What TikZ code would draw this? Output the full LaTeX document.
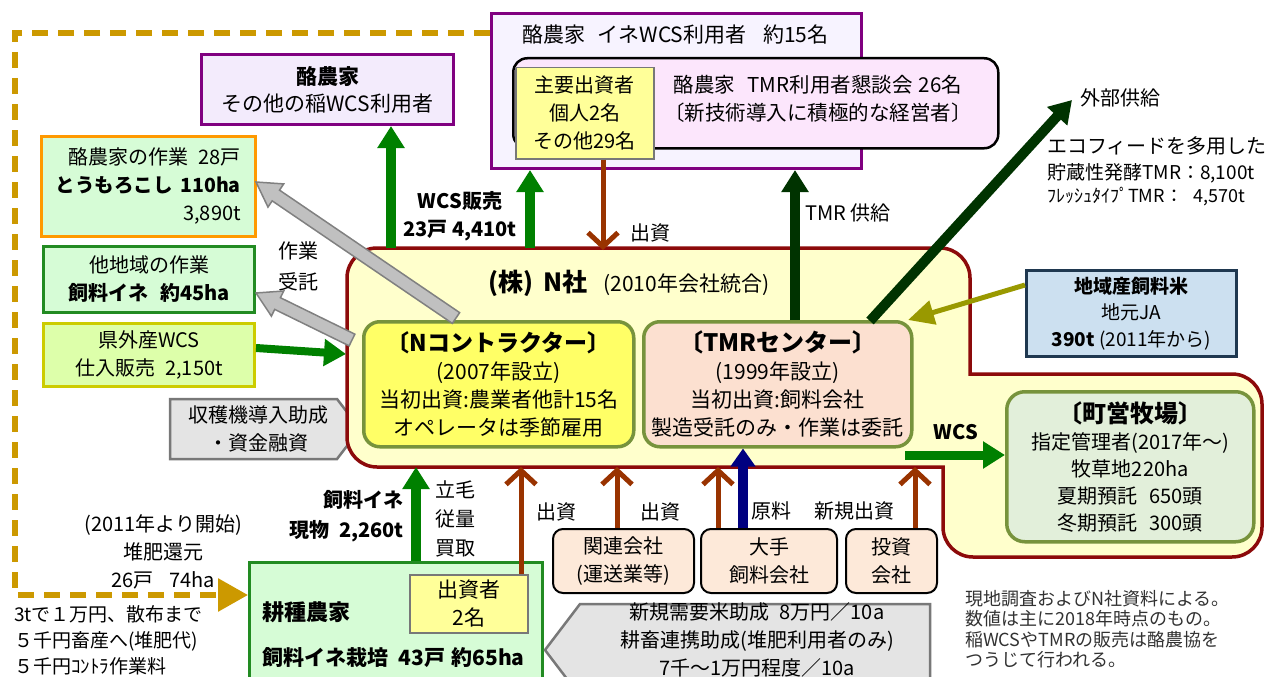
\documentclass[tikz,border=0pt]{standalone}
\usepackage{fontspec}
\setmainfont{Noto Sans CJK JP}
\usetikzlibrary{arrows.meta,calc}
\definecolor{gold}{RGB}{204,153,0}
\definecolor{purp}{RGB}{128,0,128}
\definecolor{lav}{RGB}{243,235,252}
\definecolor{lav2}{RGB}{247,243,255}
\definecolor{pinkl}{RGB}{252,230,252}
\definecolor{yel}{RGB}{255,255,153}
\definecolor{lgreen}{RGB}{214,252,214}
\definecolor{orng}{RGB}{255,153,0}
\definecolor{dgrn}{RGB}{34,139,34}
\definecolor{ygrnb}{RGB}{204,204,0}
\definecolor{ygrnf}{RGB}{221,255,170}
\definecolor{grayb}{RGB}{120,120,120}
\definecolor{grayf}{RGB}{228,228,228}
\definecolor{nred}{RGB}{140,10,10}
\definecolor{nfill}{RGB}{255,255,204}
\definecolor{olivb}{RGB}{119,147,60}
\definecolor{ncfill}{RGB}{255,255,102}
\definecolor{tmrfill}{RGB}{252,224,208}
\definecolor{farmfill}{RGB}{226,239,218}
\definecolor{arrg}{RGB}{0,128,0}
\definecolor{arrdg}{RGB}{0,51,0}
\definecolor{brn}{RGB}{153,51,0}
\definecolor{navyc}{RGB}{0,0,128}
\definecolor{oliva}{RGB}{153,153,0}
\definecolor{bluef}{RGB}{204,224,240}
\definecolor{blueb}{RGB}{31,56,80}
\definecolor{peach}{RGB}{253,233,217}
\definecolor{notec}{RGB}{50,50,50}
\definecolor{garr}{RGB}{192,192,192}
\definecolor{garrb}{RGB}{128,128,128}
\newcommand{\fsz}[2]{\fontsize{#1}{#2}\selectfont}
\newcommand{\grayarrow}[3]{%
  \coordinate (#3h) at ($(#2)!24pt!(#1)$);
  \draw[draw=garrb, fill=garr, line width=1.5pt]
   ($(#1)!6.5pt!90:(#2)$) -- ($(#3h)!6.5pt!90:(#2)$) -- ($(#3h)!14pt!90:(#2)$) -- (#2)
   -- ($(#3h)!14pt!-90:(#2)$) -- ($(#3h)!6.5pt!-90:(#2)$) -- ($(#1)!6.5pt!-90:(#2)$) -- cycle;}
\begin{document}
\begin{tikzpicture}[x=1pt,y=-1pt,
  box/.style={draw, line width=3pt, inner sep=2pt, anchor=north west, align=center, font=\fsz{20}{28}},
  txt/.style={inner sep=0pt, align=center, font=\fsz{20}{28}},
  garrow/.style={draw=arrg, line width=10pt, -{Triangle[length=22pt,width=26pt]}},
  dgarrow/.style={draw=arrdg, line width=10pt, -{Triangle[length=22pt,width=26pt]}},
  narrow/.style={draw=navyc, line width=10pt, -{Triangle[length=18pt,width=24pt]}},
  barrow/.style={draw=brn, line width=5pt, -{Straight Barb[length=14pt,width=30pt]}},
  oarrow/.style={draw=oliva, line width=5pt, -{Triangle[length=26pt,width=24pt]}},
  dashline/.style={draw=gold, line width=6pt, dash pattern=on 16pt off 10pt, -{Triangle[length=30pt,width=32pt]}},
  pent/.style={draw=grayb, fill=grayf, line width=2.5pt},
  pbox/.style={box, draw=black, line width=2pt, fill=peach, rounded corners=10pt, minimum height=64pt},
]
\fill[white] (0,0) rectangle (1272,677);
\path[use as bounding box] (0,0) rectangle (1272,677);

% top purple boxes
\node[box, draw=purp, fill=lav2, minimum width=370pt, minimum height=155pt] (pbig) at (490,12) {};
\node[txt, anchor=west, font=\fsz{21}{28}] (pbigT) at (522,35) {酪農家\hspace{0.6em}イネWCS利用者\hspace{0.8em}約15名};
\node[box, draw=black, line width=2.5pt, fill=pinkl, rounded corners=14pt, minimum width=485pt, minimum height=90pt] (tmrg) at (512,57) {};
\node[txt, font=\fsz{20.5}{28}] (tmrgT) at (818,99) {酪農家\hspace{0.6em}TMR利用者懇談会\hspace{0.3em}26名\\〔新技術導入に積極的な経営者〕};
\node[box, draw=grayb, line width=1.5pt, fill=yel, minimum width=138pt, minimum height=91pt] (inv1) at (515,67) {主要出資者\\個人2名\\その他29名};
\node[box, draw=purp, fill=lav, minimum width=252pt, minimum height=70pt, font=\fsz{21}{27}] (pleft) at (200,53) {\textbf{酪農家}\\その他の稲WCS利用者};

% dashed compost line
\coordinate (d0) at (0,33);
\draw[dashline] (pbig.west |- d0) -- (15,33) -- (15,595) -- (248,595);

% left boxes
\node[box, draw=orng, fill=lgreen, minimum width=214pt, minimum height=100pt] (corn) at (40,135) {};
\node[txt, anchor=east] (cornT1) at (241,157) {酪農家の作業\hspace{0.5em}28戸};
\node[txt, anchor=east, font=\bfseries\fsz{19.5}{28}] (cornT2) at (241,185) {とうもろこし\hspace{0.4em}110ha};
\node[txt, anchor=east] (cornT3) at (241,215) {3,890t};
\node[box, draw=dgrn, fill=lgreen, minimum width=211pt, minimum height=66pt] (other) at (42,245) {他地域の作業\\\textbf{飼料イネ\hspace{0.6em}約45ha}};
\node[box, draw=ygrnb, fill=ygrnf, minimum width=211pt, minimum height=63pt] (outwcs) at (42,322) {県外産WCS\\仕入販売\hspace{0.5em}2,150t};
\draw[pent] (170,399) -- (337,399) -- (360,429) -- (337,459) -- (170,459) -- cycle;
\node[txt] (harv) at (258,429) {収穫機導入助成\\・資金融資};

% N company outline
\draw[line width=3.5pt, draw=nred, fill=nfill] (347,360) [rounded corners=30pt] -- (347,248) -- (970,248) [sharp corners] -- (970,374) [rounded corners=30pt] -- (1262,374) -- (1262,557) -- (943,557) [sharp corners] -- (943,467) [rounded corners=30pt] -- (347,467) -- cycle;
\node[txt, anchor=west] (nshaT) at (488,283) {{\bfseries\fsz{25}{28}(株)\hspace{0.4em}N社}\hspace{0.8em}{\fsz{21}{28}(2010年会社統合)}};
\node[box, draw=olivb, line width=3.5pt, fill=ncfill, rounded corners=16pt, minimum width=270pt, minimum height=125pt, font=\fsz{21}{28}] (nc) at (362,320) {{\bfseries\fsz{23}{28}〔Nコントラクター〕}\\(2007年設立)\\当初出資:農業者他計15名\\オペレータは季節雇用};
\node[box, draw=olivb, line width=3.5pt, fill=tmrfill, rounded corners=16pt, minimum width=268pt, minimum height=125pt, font=\fsz{21}{28}] (tmr) at (642,320) {{\bfseries\fsz{24}{28}〔TMRセンター〕}\\(1999年設立)\\当初出資:飼料会社\\製造受託のみ・作業は委託};
\node[box, draw=olivb, line width=3.5pt, fill=farmfill, rounded corners=18pt, minimum width=247pt, minimum height=150pt, font=\fsz{20}{27}] (farm) at (1005,390) {{\bfseries\fsz{24}{30}〔町営牧場〕}\\指定管理者(2017年～)\\牧草地220ha\\夏期預託\hspace{0.6em}650頭\\冬期預託\hspace{0.6em}300頭};

% right side
\node[box, draw=blueb, fill=bluef, minimum width=210pt, minimum height=86pt, font=\fsz{19}{26.5}] (ja) at (1025,269) {\textbf{地域産飼料米}\\地元JA\\\textbf{390t} (2011年から)};
\node[txt, anchor=west] (ext) at (1080,98) {外部供給};
\node[txt, anchor=west, font=\fsz{20}{26}] (eco1) at (1047,146) {エコフィードを多用した};
\node[txt, anchor=west, font=\fsz{19}{26}] (eco2) at (1047,173) {貯蔵性発酵TMR：8,100t};
\node[txt, anchor=west, font=\fsz{18}{26}] (eco3) at (1047,197) {ﾌﾚｯｼｭﾀｲﾌﾟTMR：\hspace{0.6em}4,570t};

% bottom
\node[box, draw=dgrn, fill=lgreen, minimum width=293pt, minimum height=140pt] (kou) at (248,561) {};
\node[txt, anchor=west, font=\bfseries\fsz{22}{28}] (kouT1) at (262,612) {耕種農家};
\node[txt, anchor=west, font=\bfseries\fsz{21}{28}] (kouT2) at (262,658) {飼料イネ栽培\hspace{0.5em}43戸\hspace{0.3em}約65ha};
\node[box, draw=grayb, line width=1.5pt, fill=yel, minimum width=118pt, minimum height=58pt, font=\fsz{21}{28}] (inv2) at (409,574) {出資者\\2名};
\node[pbox, minimum width=141pt] (kanren) at (552,528) {関連会社\\(運送業等)};
\node[pbox, minimum width=136pt] (otemo) at (700,528) {大手\\飼料会社};
\node[pbox, minimum width=91pt] (toushi) at (845,528) {投資\\会社};
\draw[pent] (545,650) -- (580,604) -- (930,604) -- (930,696) -- (580,696) -- cycle;
\node[txt] (subsidy) at (757,640) {新規需要米助成\hspace{0.5em}8万円／10a\\耕畜連携助成(堆肥利用者のみ)\\7千～1万円程度／10a};
\node[txt] (compost) at (163,552) {(2011年より開始)\\堆肥還元\\26戸\hspace{0.8em}74ha};
\node[txt, anchor=north west, align=left, font=\fsz{19}{26}] (price) at (14,605) {3tで１万円、散布まで\\５千円畜産へ(堆肥代)\\５千円ｺﾝﾄﾗ作業料};
\node[anchor=north west, inner sep=0pt, align=left, font=\fsz{18}{20.5}, text=notec] (note) at (965,590) {現地調査およびN社資料による。\\数値は主に2018年時点のもの。\\稲WCSやTMRの販売は酪農協を\\つうじて行われる。};

% labels
\node[txt, font=\bfseries\fsz{20}{28}] (wcsL) at (460,216) {WCS販売\\23戸 4,410t};
\node[txt, anchor=west] (tmrsup) at (805,213) {TMR 供給};
\node[txt, anchor=west] (sh1) at (630,233) {出資};
\node[txt, font=\fsz{20}{31}] (sagyo) at (298,266) {作業\\受託};
\node[txt, font=\bfseries\fsz{20}{28}] (wcs2) at (956,432) {WCS};
\node[txt, anchor=east, align=right, font=\bfseries\fsz{20}{30}] (feedL) at (404,516) {飼料イネ\\現物\hspace{0.5em}2,260t};
\node[txt, font=\fsz{20}{29}] (tachige) at (455,519) {立毛\\従量\\買取};
\node[txt] (sh2) at (556,512) {出資};
\node[txt] (sh3) at (660,512) {出資};
\node[txt] (genryo) at (771,511) {原料};
\node[txt] (shinki) at (854,511) {新規出資};

% arrows top
\coordinate (a1s) at (391,248);
\draw[garrow] (a1s) -- (a1s |- pleft.south);
\coordinate (a2s) at (530,248);
\draw[garrow] (a2s) -- (a2s |- pbig.south);
\coordinate (a3e) at (603,250);
\draw[barrow] (a3e |- inv1.south) -- (a3e);
\coordinate (a4s) at (795,0);
\draw[dgarrow] (a4s |- tmr.north) -- (a4s |- pbig.south);
\coordinate (a5s) at (870,321);
\coordinate (a5e) at (1072,100);
\draw[dgarrow] (a5s) -- (a5e);
\coordinate (a6s) at (1025,285);
\coordinate (a6e) at (908,320);
\draw[oarrow] (a6s) -- (a6e);

% gray arrows
\coordinate (g1t) at (456,318);
\coordinate (g1e) at (256,182);
\grayarrow{g1t}{g1e}{ga}
\coordinate (g2t) at (352,340);
\coordinate (g2e) at (256,293);
\grayarrow{g2t}{g2e}{gb}
\draw[garrow, line width=8pt] ($(outwcs.east)+(0,-7)$) -- (346,354) coordinate (a9e);

% arrows bottom
\coordinate (b1) at (416,467);
\draw[garrow] (b1 |- kou.north) -- (b1);
\coordinate (b2) at (521,467);
\draw[barrow] (b2 |- inv2.north) -- (b2);
\coordinate (b3) at (617,467);
\draw[barrow] (b3 |- kanren.north) -- (b3);
\coordinate (b4) at (718,467);
\draw[barrow] (b4 |- otemo.north) -- (b4);
\coordinate (b5) at (743,0);
\draw[narrow] (b5 |- otemo.north) -- (b5 |- tmr.south);
\coordinate (b6) at (915,467);
\draw[barrow] (b6 |- toushi.north) -- (b6);
\coordinate (b7) at (905,455);
\draw[garrow, line width=9pt] (b7) -- (b7 -| farm.west);
\end{tikzpicture}
\end{document}
